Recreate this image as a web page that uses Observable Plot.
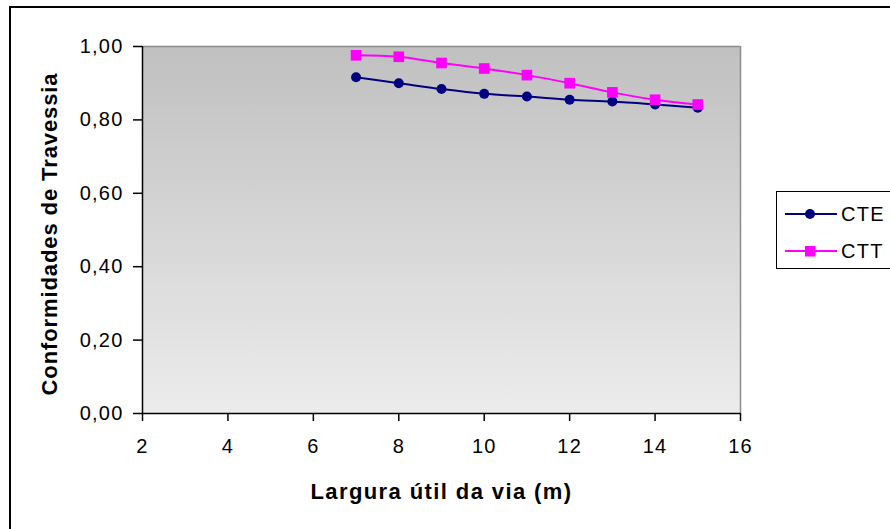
<!DOCTYPE html>
<html>
<head>
<meta charset="utf-8">
<script src="https://cdn.jsdelivr.net/npm/d3@7"></script>
<script src="https://cdn.jsdelivr.net/npm/@observablehq/plot@0.6"></script>
<style>
  html, body { margin: 0; padding: 0; background: #fff; overflow: hidden; }
  #wrap { position: relative; width: 890px; height: 529px; }
  #frame { position: absolute; left: 9px; top: 6px; width: 1000px; height: 1000px;
           border-left: 2px solid #000; border-top: 2px solid #000; box-sizing: border-box; }
  #chart { position: absolute; left: 0; top: 0; }
  #legend { position: absolute; left: 776px; top: 191px; width: 140px; height: 78px;
            border: 1px solid #000; background: #fff; box-sizing: border-box;
            font-family: 'Liberation Sans', Arial, sans-serif; font-size: 20px; letter-spacing: 1.3px; }
  .tick-text text { letter-spacing: 1.2px; }
</style>
</head>
<body>
<div id="wrap">
  <div id="frame"></div>
  <div id="chart"></div>
  <div id="legend"></div>
</div>
<script>
// ---- data ----
const larguras = [7, 8, 9, 10, 11, 12, 13, 14, 15];
const cte = [0.916, 0.900, 0.884, 0.871, 0.864, 0.855, 0.850, 0.842, 0.833];
const ctt = [0.976, 0.972, 0.955, 0.940, 0.922, 0.900, 0.875, 0.855, 0.842];
const seriesNames = ["CTE", "CTT"];
const seriesColors = ["#000080", "#ff00ff"];
const xTicks = [2, 4, 6, 8, 10, 12, 14, 16];
const xTickLabels = ["2", "4", "6", "8", "10", "12", "14", "16"];
const yTicks = [0, 0.2, 0.4, 0.6, 0.8, 1.0];
const yTickLabels = ["0,00", "0,20", "0,40", "0,60", "0,80", "1,00"];
const xTitle = "Largura útil da via (m)";
const yTitle = "Conformidades de Travessia";

const dataCTE = larguras.map((w, i) => ({w, v: cte[i]}));
const dataCTT = larguras.map((w, i) => ({w, v: ctt[i]}));

const font = "'Liberation Sans', Arial, sans-serif";

const chart = Plot.plot({
  width: 890,
  height: 529,
  marginLeft: 142,
  marginRight: 150,
  marginTop: 46,
  marginBottom: 116,
  style: {fontFamily: font, fontSize: "20px", color: "#000", background: "transparent", overflow: "visible"},
  x: {domain: [2, 16], label: null},
  y: {domain: [0, 1], label: null},
  marks: [
    Plot.frame({fill: "url(#plotbg)", stroke: "none"}),
    Plot.ruleY([1], {stroke: "#8c8c8c", strokeWidth: 1.5}),
    Plot.ruleX([16], {stroke: "#8c8c8c", strokeWidth: 1.5}),
    Plot.axisX({ticks: xTicks, tickFormat: d => xTickLabels[xTicks.indexOf(d)], tickSize: 8, tickPadding: 17,
                strokeWidth: 1.5, label: null, fontSize: 20, className: "tick-text"}),
    Plot.axisY({ticks: yTicks, tickFormat: d => yTickLabels[yTicks.findIndex(t => Math.abs(t - d) < 1e-9)],
                tickSize: 9, tickPadding: 10, strokeWidth: 1.5, label: null, fontSize: 20, className: "tick-text"}),
    Plot.ruleX([2], {strokeWidth: 1.5}),
    Plot.ruleY([0], {strokeWidth: 1.5}),
    Plot.line(dataCTE, {x: "w", y: "v", stroke: seriesColors[0], strokeWidth: 2, curve: "catmull-rom"}),
    Plot.line(dataCTT, {x: "w", y: "v", stroke: seriesColors[1], strokeWidth: 2, curve: "catmull-rom"}),
    Plot.dot(dataCTE, {x: "w", y: "v", fill: seriesColors[0], r: 5, symbol: "circle"}),
    Plot.dot(dataCTT, {x: "w", y: "v", fill: seriesColors[1], r: 6, symbol: "square"}),
    Plot.text([xTitle], {text: d => d, frameAnchor: "bottom", dy: 78, fontWeight: "bold", fontSize: 22,
                         textAnchor: "middle", lineAnchor: "middle", className: "xtitle"}),
    Plot.text([yTitle], {text: d => d, frameAnchor: "left", dx: -93, dy: 4, rotate: -90,
                         textAnchor: "middle", lineAnchor: "middle",
                         fontWeight: "bold", fontSize: 22, className: "ytitle"})
  ]
});

// gradient background for plot area
const defs = d3.select(chart).insert("defs", ":first-child");
const grad = defs.append("linearGradient").attr("id", "plotbg")
  .attr("x1", 0).attr("y1", 0).attr("x2", 0).attr("y2", 1);
grad.append("stop").attr("offset", "0%").attr("stop-color", "#c0c0c0");
grad.append("stop").attr("offset", "100%").attr("stop-color", "#ececec");

d3.select(chart).selectAll(".xtitle text").style("letter-spacing", "1.4px");
d3.select(chart).selectAll(".ytitle text").style("letter-spacing", "0.9px");

document.getElementById("chart").appendChild(chart);

// legend
const legend = d3.select("#legend");
const rows = [{name: seriesNames[0], color: seriesColors[0], sym: "circle"},
              {name: seriesNames[1], color: seriesColors[1], sym: "square"}];
const rowTops = [22, 59];
rows.forEach((r, i) => {
  const svg = legend.append("svg")
    .style("position", "absolute").style("left", "8px").style("top", (rowTops[i] - 10) + "px")
    .attr("width", 54).attr("height", 20);
  svg.append("line").attr("x1", 0).attr("x2", 52).attr("y1", 10).attr("y2", 10)
    .attr("stroke", r.color).attr("stroke-width", 2);
  if (r.sym === "circle") {
    svg.append("circle").attr("cx", 25).attr("cy", 10).attr("r", 5).attr("fill", r.color);
  } else {
    svg.append("rect").attr("x", 20).attr("y", 5).attr("width", 10.5).attr("height", 10.5).attr("fill", r.color);
  }
  legend.append("div").text(r.name)
    .style("position", "absolute").style("left", "64px").style("top", (rowTops[i] - 12) + "px")
    .style("line-height", "24px");
});
</script>
</body>
</html>
